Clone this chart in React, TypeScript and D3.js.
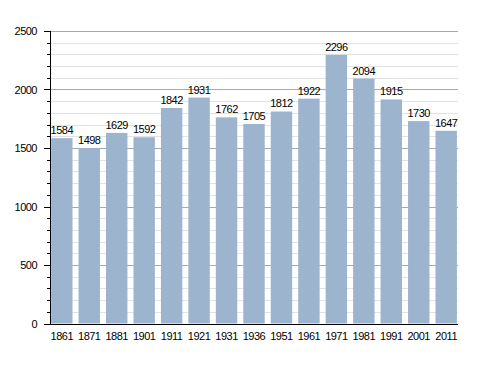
import React from 'react';
import * as d3 from 'd3';

const years = ['1861', '1871', '1881', '1901', '1911', '1921', '1931', '1936', '1951', '1961', '1971', '1981', '1991', '2001', '2011'];
const population = [1584, 1498, 1629, 1592, 1842, 1931, 1762, 1705, 1812, 1922, 2296, 2094, 1915, 1730, 1647];
const majorTicks = [0, 500, 1000, 1500, 2000, 2500];

const W = 488;
const H = 373;
const left = 50;
const right = 458;
const top = 31;
const bottom = 323.5;

const App = () => {
    const x = d3.scaleBand<string>()
        .domain(years)
        .range([left, right])
        .paddingInner(0.22)
        .paddingOuter(0.04);
    const y = d3.scaleLinear().domain([0, 2500]).range([bottom, top]);
    const minorTicks = d3.range(0, 2501, 100).filter(v => v % 500 !== 0);
    const lbl = { fontSize: 11, fill: '#000', letterSpacing: -0.5 };

    return (
        <svg width={W} height={H} style={{ position: 'absolute', left: 0, top: 0, fontFamily: 'Liberation Sans, Arial, sans-serif' }}>
            <rect width={W} height={H} fill="#fff" />
            {minorTicks.map(v => (
                <line key={'g' + v} x1={left} x2={right} y1={Math.round(y(v)) + 0.5} y2={Math.round(y(v)) + 0.5} stroke="#e2e2e2" />
            ))}
            {majorTicks.map(v => (
                <line key={'G' + v} x1={left} x2={right} y1={Math.round(y(v)) + 0.5} y2={Math.round(y(v)) + 0.5} stroke="#a8a8a8" />
            ))}
            {population.map((v, i) => (
                <g key={years[i]}>
                    <rect x={x(years[i])} y={y(v)} width={x.bandwidth()} height={bottom - y(v)} fill="#9db4cf" />
                    <text x={x(years[i])! + x.bandwidth() / 2} y={y(v) - 4} textAnchor="middle" {...lbl}>{v}</text>
                    <text x={x(years[i])! + x.bandwidth() / 2} y={340} textAnchor="middle" {...lbl}>{years[i]}</text>
                </g>
            ))}
            {minorTicks.map(v => (
                <line key={'m' + v} x1={47} x2={left} y1={Math.round(y(v)) + 0.5} y2={Math.round(y(v)) + 0.5} stroke="#000" />
            ))}
            {majorTicks.map(v => (
                <g key={'t' + v}>
                    <line x1={44} x2={left} y1={Math.round(y(v)) + 0.5} y2={Math.round(y(v)) + 0.5} stroke="#000" />
                    <text x={37} y={y(v) + 4} textAnchor="end" {...lbl}>{v}</text>
                </g>
            ))}
            <line x1={left + 0.5} x2={left + 0.5} y1={top} y2={bottom + 0.5} stroke="#000" />
            <line x1={left} x2={right} y1={Math.round(bottom) + 0.5} y2={Math.round(bottom) + 0.5} stroke="#000" />
        </svg>
    );
};

export default App;
